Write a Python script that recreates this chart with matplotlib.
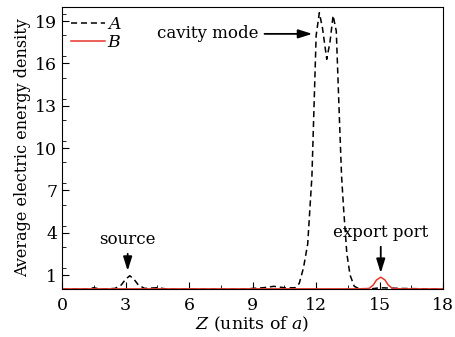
import matplotlib.pyplot as plt
from matplotlib.ticker import MultipleLocator

# curve A: average electric energy density along Z (dashed)
z_a = [0, 1.2, 1.5, 1.8, 2.5, 2.8, 3.0, 3.2, 3.4, 3.6, 3.9, 4.5, 5.0, 7.0,
       8.5, 9.5, 10.0, 10.5, 11.0, 11.2, 11.4, 11.6, 11.8, 11.9, 12.0, 12.15,
       12.3, 12.5, 12.65, 12.8, 12.95, 13.1, 13.2, 13.3, 13.45, 13.6, 13.8,
       14.0, 14.5, 15.0, 16.0, 18.0]
val_a = [0.0, 0.0, 0.1, 0.0, 0.05, 0.3, 0.7, 0.95, 0.7, 0.3, 0.05, 0.1, 0.0,
         0.0, 0.0, 0.1, 0.2, 0.1, 0.1, 0.4, 1.5, 3.2, 8.0, 13.0, 18.0, 19.6,
         18.5, 16.3, 17.5, 19.4, 18.3, 12.0, 8.0, 5.6, 2.5, 1.0, 0.2, 0.05,
         0.0, 0.1, 0.05, 0.0]

# curve B (solid red)
z_b = [0, 14.0, 14.5, 14.7, 14.85, 15.05, 15.25, 15.4, 15.6, 16.0, 18.0]
val_b = [0.02, 0.02, 0.05, 0.3, 0.65, 0.85, 0.65, 0.3, 0.05, 0.02, 0.02]

xticks = [0, 3, 6, 9, 12, 15, 18]
yticks = [1, 4, 7, 10, 13, 16, 19]

plt.rcParams['font.family'] = 'DejaVu Serif'
plt.rcParams['mathtext.fontset'] = 'dejavuserif'

fig = plt.figure(figsize=(4.56, 3.37), dpi=100)
ax = fig.add_axes([0.136, 0.142, 0.836, 0.837])

ax.plot(z_a, val_a, color='black', linestyle=(0, (4, 2.5)), linewidth=1.1,
        label='$A$')
ax.plot(z_b, val_b, color='#e8352b', linewidth=1.1, label='$B$')

ax.set_xlim(0, 18)
ax.set_ylim(0, 20)
ax.set_xticks(xticks)
ax.set_yticks(yticks)
ax.xaxis.set_minor_locator(MultipleLocator(1.5))
ax.yaxis.set_minor_locator(MultipleLocator(1.5))
ax.tick_params(which='both', direction='in', labelsize=12.5)
ax.tick_params(which='major', length=5)
ax.tick_params(which='minor', length=3)
ax.tick_params(axis='x', pad=6)

ax.set_xlabel('$Z$ (units of $a$)', fontsize=12.5, labelpad=0)
ax.set_ylabel('Average electric energy density', fontsize=11.5, labelpad=3)

ax.legend(loc='upper left', frameon=False, fontsize=12.5, handlelength=2.0,
          handletextpad=0.1, borderaxespad=0.1, labelspacing=0.1)

arrow = dict(arrowstyle='-|>,head_length=0.7,head_width=0.22',
             color='black', lw=1.3, mutation_scale=12)
ax.annotate('cavity mode', xy=(11.95, 18.1), xytext=(9.3, 18.1),
            fontsize=12, ha='right', va='center', arrowprops=arrow)
ax.annotate('source', xy=(3.1, 1.1), xytext=(3.1, 2.9),
            fontsize=12, ha='center', va='bottom', arrowprops=arrow)
ax.annotate('export port', xy=(15.05, 0.95), xytext=(15.05, 3.4),
            fontsize=12, ha='center', va='bottom', arrowprops=arrow)

fig.savefig('out.png', dpi=100)
